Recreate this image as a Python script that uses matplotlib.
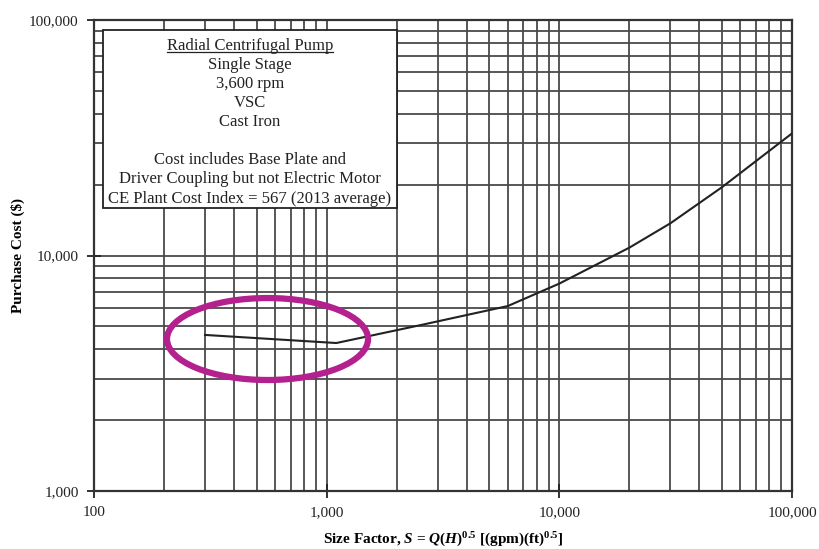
import matplotlib
matplotlib.use('Agg')
import matplotlib.pyplot as plt
from matplotlib.patches import Ellipse, Rectangle
from matplotlib.ticker import FuncFormatter, LogLocator, NullFormatter

plt.rcParams['font.family'] = 'Liberation Serif'
plt.rcParams['mathtext.fontset'] = 'custom'
plt.rcParams['mathtext.rm'] = 'Liberation Serif'
plt.rcParams['mathtext.it'] = 'Liberation Serif:italic'
plt.rcParams['mathtext.bf'] = 'Liberation Serif:bold'
plt.rcParams['mathtext.bfit'] = 'Liberation Serif:italic:bold'

# Curva (tamanho S vs custo de compra)
size_factor = [300, 1100, 2500, 6000, 10000, 20000, 30000, 50000, 100000]
purchase_cost = [4600, 4250, 5050, 6100, 7600, 10800, 13700, 19500, 33000]

x_ticks = [100, 1000, 10000, 100000]
y_ticks = [1000, 10000, 100000]

box_lines = ['Radial Centrifugal Pump', 'Single Stage', '3,600 rpm', 'VSC', 'Cast Iron', '',
             'Cost includes Base Plate and', 'Driver Coupling but not Electric Motor',
             'CE Plant Cost Index = 567 (2013 average)']

fig = plt.figure(figsize=(8.2, 5.49), dpi=100)
ax = fig.add_axes([0.1146, 0.1056, 0.8513, 0.858])

ax.set_xscale('log')
ax.set_yscale('log')
ax.set_xlim(100, 100000)
ax.set_ylim(1000, 100000)

ax.plot(size_factor, purchase_cost, color='#222222', linewidth=1.5, zorder=4)

# grade em todas as subdivisoes
ax.xaxis.set_minor_locator(LogLocator(base=10, subs=range(2, 10)))
ax.yaxis.set_minor_locator(LogLocator(base=10, subs=range(2, 10)))
ax.xaxis.set_minor_formatter(NullFormatter())
ax.yaxis.set_minor_formatter(NullFormatter())
ax.grid(True, which='both', color='#4a4a4a', linewidth=1.3, zorder=1)
ax.set_axisbelow(True)

fmt = FuncFormatter(lambda v, p: f'{int(round(v)):,}')
ax.set_xticks(x_ticks)
ax.set_yticks(y_ticks)
ax.xaxis.set_major_formatter(fmt)
ax.yaxis.set_major_formatter(fmt)
ax.tick_params(which='major', direction='inout', length=10, width=1.3, labelsize=11,
               colors='#222222', pad=6)
ax.tick_params(which='minor', length=0)

for s in ax.spines.values():
    s.set_linewidth(1.6)
    s.set_color('#333333')

ax.set_xlabel(r'Size Factor, $\mathbfit{S}$ = $\mathbfit{Q}$($\mathbfit{H}$)$^{\mathbf{0.5}}$ [(gpm)(ft)$^{\mathbf{0.5}}$]',
              fontsize=11, fontweight='bold', va='center')
ax.xaxis.set_label_coords(0.5, -0.104)
ax.set_ylabel('Purchase Cost ($)', fontsize=11, fontweight='bold', va='center')
ax.yaxis.set_label_coords(-0.109, 0.5)

# caixa de texto
box = Rectangle((0.0129, 0.601), 0.421, 0.378, transform=ax.transAxes,
                facecolor='white', edgecolor='#222222', linewidth=1.3, zorder=5)
ax.add_patch(box)
y0 = 0.945
step = 0.0405
texts = []
for i, line in enumerate(box_lines):
    t = ax.text(0.2235, y0 - i * step, line, transform=ax.transAxes, ha='center', va='center',
                fontsize=12, color='#222222', zorder=6)
    texts.append(t)

fig.canvas.draw()
bb = texts[0].get_window_extent().transformed(ax.transAxes.inverted())
ax.plot([bb.x0, bb.x1], [bb.y0 + 0.003, bb.y0 + 0.003], transform=ax.transAxes,
        color='#222222', linewidth=0.9, zorder=6)

# elipse de destaque
ell = Ellipse((0.2486, 0.3227), 0.288, 0.174, transform=ax.transAxes, fill=False,
              edgecolor='#b5208f', linewidth=4.5, zorder=7)
ax.add_patch(ell)

fig.savefig('out.png', dpi=100)
